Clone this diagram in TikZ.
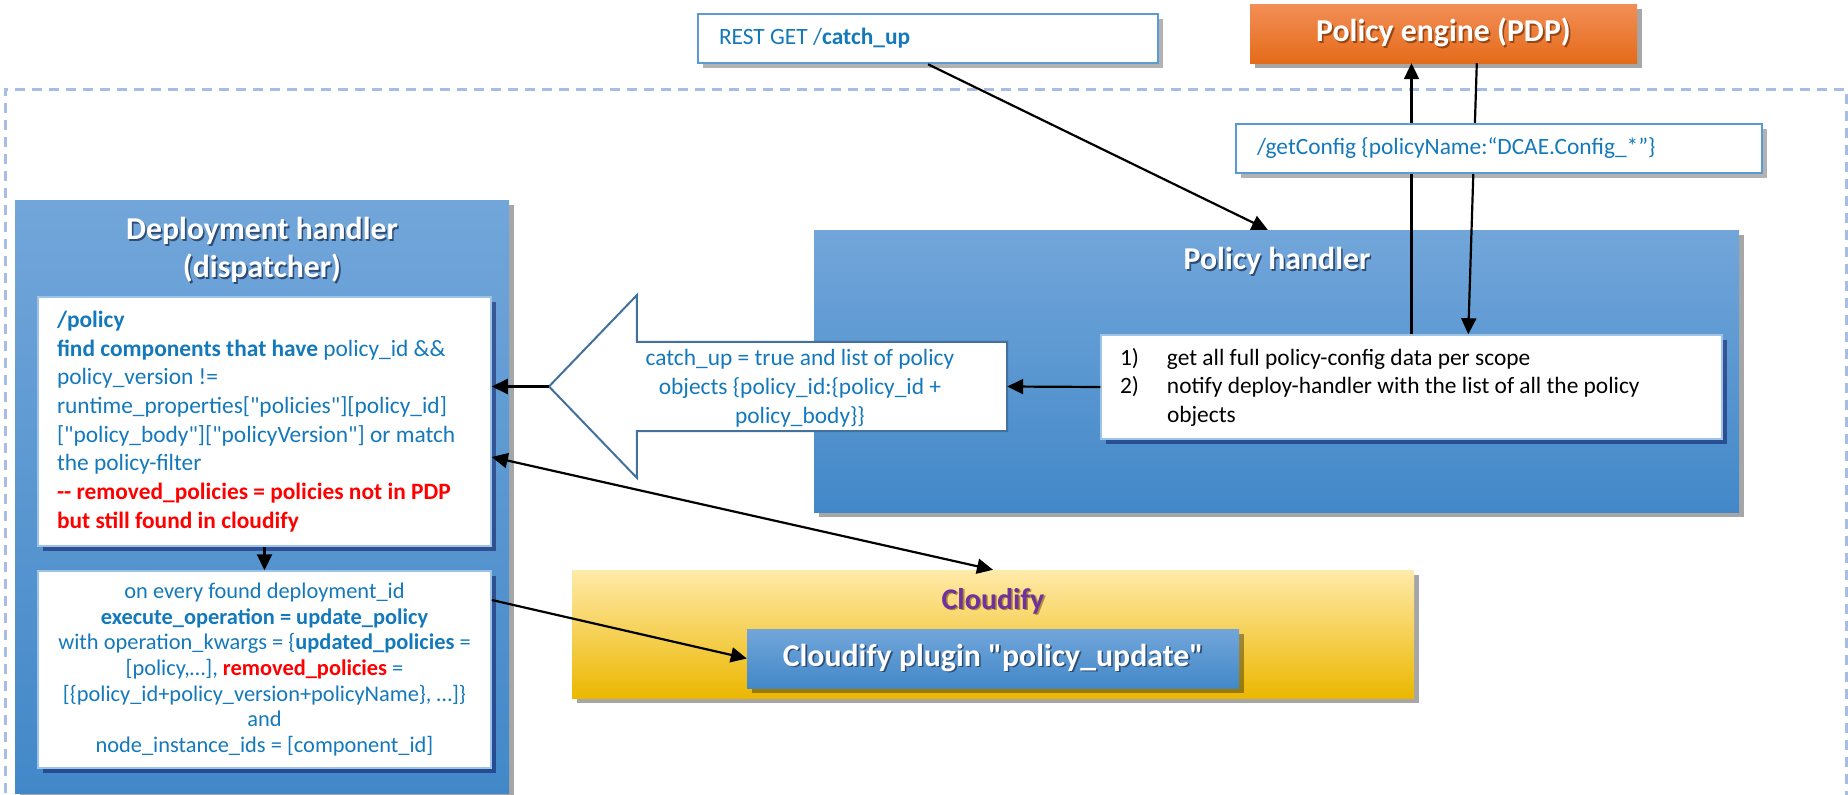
\documentclass[tikz,border=0pt]{standalone}
\usepackage{fontspec}
\setmainfont{Carlito}[Ligatures=TeXOff]
\usetikzlibrary{arrows.meta,shadows}
\definecolor{tblue}{RGB}{20,121,187}
\definecolor{dashc}{RGB}{168,189,227}
\definecolor{bluetop}{RGB}{114,166,218}
\definecolor{bluebot}{RGB}{66,136,200}
\definecolor{boxborder}{RGB}{91,155,213}
\definecolor{innerborder}{RGB}{157,195,230}
\definecolor{orangetop}{RGB}{242,142,86}
\definecolor{orangebot}{RGB}{229,107,26}
\definecolor{ylwtop}{RGB}{255,234,170}
\definecolor{ylwmid}{RGB}{255,196,16}
\definecolor{ylwbot}{RGB}{236,183,0}
\definecolor{purp}{RGB}{112,48,160}
\definecolor{arrowblue}{RGB}{65,113,156}
\definecolor{shblue}{RGB}{45,75,115}
\definecolor{shorange}{RGB}{150,70,20}
\definecolor{shyellow}{RGB}{175,140,50}
\newcommand\shtx[2]{\makebox[0pt][l]{\hspace{1.6pt}\raisebox{-1.6pt}{\textcolor{#1}{#2}}}#2}
\newcommand\dq{\symbol{34}}
\tikzset{
  >={Triangle[length=16pt,width=15pt]},
  bluebox/.style={rectangle, inner sep=0pt, top color=bluetop, bottom color=bluebot, draw=none,
    drop shadow={shadow xshift=5pt, shadow yshift=-5pt, opacity=0.35, fill=black}},
  whitebox/.style={rectangle, inner sep=0pt, fill=white, draw=innerborder, line width=1.5pt,
    drop shadow={shadow xshift=5pt, shadow yshift=-5pt, opacity=0.45, fill=black!70!blue}},
  labelbox/.style={rectangle, inner sep=0pt, fill=white, draw=boxborder, line width=2.5pt,
    drop shadow={shadow xshift=5pt, shadow yshift=-5pt, opacity=0.3, fill=black}},
  arr/.style={draw=black, line width=2.2pt, ->},
  darr/.style={draw=black, line width=2.2pt, <->},
  ttl/.style={text=white, font=\fontsize{31.8}{38}\selectfont\bfseries, align=flush center, inner sep=0pt},
  body/.style={text=tblue, font=\fontsize{23.4}{28.7}\selectfont},
}
\begin{document}
\begin{tikzpicture}[x=1pt,y=-1pt]
\useasboundingbox (0,0) rectangle (1848,795);
\clip (0,0) rectangle (1848,795);

% dashed frame
\draw[dashc, line width=3pt, dash pattern=on 10pt off 7pt] (5,810) -- (5,89) -- (1846,89) -- (1846,810);

% big containers
\node[bluebox, minimum width=494pt, minimum height=593pt] (dh) at (262,496.5) {};
\node[ttl] (dhtitle) at (262,251) {\shtx{shblue}{Deployment handler}\\\shtx{shblue}{(dispatcher)}};

\node[bluebox, minimum width=925pt, minimum height=282pt] (ph) at (1276.5,371) {};
\node[ttl] (phtitle) at (1277,262) {\shtx{shblue}{Policy handler}};

\node[rectangle, inner sep=0pt, top color=ylwtop, middle color=ylwmid, bottom color=ylwbot,
  drop shadow={shadow xshift=5pt, shadow yshift=-5pt, opacity=0.35, fill=black},
  minimum width=842pt, minimum height=128pt] (cf) at (993,634) {};
\node[text=purp, font=\fontsize{30}{36}\selectfont\bfseries, inner sep=0pt] (cftitle) at (993,602) {\shtx{shyellow}{Cloudify}};

\node[bluebox, minimum width=492pt, minimum height=59pt, ttl] (plugin) at (993,658.5)
  {\shtx{shblue}{Cloudify plugin \dq policy\_update\dq}};

% inner white boxes
\node[whitebox, body, minimum width=453pt, minimum height=249pt, text width=415pt, align=flush left] (box1) at (264.5,421.5)
{\textbf{/policy}\\
\textbf{find components that have} policy\_id \&\&\\
policy\_version !=\\
runtime\_properties{[}\dq policies\dq{]}{[}policy\_id{]}\\
{[}\dq policy\_body\dq{]}{[}\dq policyVersion\dq{]} or match\\
the policy-filter\\
\textcolor{red}{\textbf{{-}{-} removed\_policies = policies not in PDP}}\\
\textcolor{red}{\textbf{but still found in cloudify}}};

\node[whitebox, text=tblue, font=\fontsize{22.4}{25.6}\selectfont, minimum width=453pt, minimum height=197pt, text width=440pt, align=flush center] (box2) at (264.5,669.5)
{on every found deployment\_id\\
\textbf{execute\_operation = update\_policy}\\
with operation\_kwargs = \{\textbf{updated\_policies} =\\
{[}policy,…{]}, \textcolor{red}{\textbf{removed\_policies}} =\\
{[}\{policy\_id+policy\_version+policyName\}, …{]}\}\\
and\\
node\_instance\_ids = {[}component\_id{]}};

\node[whitebox, text=black, font=\fontsize{23.4}{28.5}\selectfont, minimum width=621pt, minimum height=104pt, text width=583pt, align=flush left] (phin) at (1411.5,387)
{\makebox[47pt][l]{1)}get all full policy-config data per scope\\
\makebox[47pt][l]{2)}notify deploy-handler with the list of all the policy\\
\hspace*{47pt}objects};

% block arrow
\node[minimum width=370pt, minimum height=89pt, inner sep=0pt] (bshaft) at (822,386.5) {};
\coordinate (btip) at (549,386.5);
\draw[arrowblue, fill=white, line width=2pt, line join=miter]
  (bshaft.north east) -- (bshaft.north west) -- (637,295) -- (btip) -- (637,478)
  -- (bshaft.south west) -- (bshaft.south east) -- cycle;
\node[body, font=\fontsize{23.4}{29}\selectfont, align=flush center, inner sep=0pt] (btext) at (800,388)
{catch\_up = true and list of policy\\
objects \{policy\_id:\{policy\_id +\\
policy\_body\}\}};

% top boxes
\node[labelbox, body, minimum width=460pt, minimum height=49pt, text width=418pt, align=flush left] (rest) at (928,38.5)
{REST GET /\textbf{catch\_up}};
\node[rectangle, inner sep=0pt, top color=orangetop, bottom color=orangebot,
  drop shadow={shadow xshift=5pt, shadow yshift=-5pt, opacity=0.35, fill=black},
  minimum width=387pt, minimum height=59pt, ttl] (pdp) at (1443.5,33.5) {\shtx{shorange}{Policy engine (PDP)}};

% arrows passing behind getConfig
\draw[arr] (phin.north) -- (phin.north |- pdp.south);
\draw[arr] ([xshift=227pt]pdp.south west) -- ([xshift=368pt]phin.north west);

\node[labelbox, body, minimum width=526pt, minimum height=49pt, text width=484pt, align=flush left] (gc) at (1499,148.5)
{/getConfig \{policyName:“DCAE.Config\_*”\}};

% other arrows
\draw[arr] (rest.south) -- ([xshift=454pt]ph.north west);
\draw[arr] (phin.west) -- (bshaft.east);
\draw[arr] (btip) -- (box1.east |- btip);
\draw[arr] (box1.south) -- (box2.north);
\draw[darr] ([yshift=-35.5pt]box1.east) -- (cf.north);
\draw[arr] ([yshift=69.5pt]box2.east) -- (plugin.west);
\end{tikzpicture}
\end{document}
